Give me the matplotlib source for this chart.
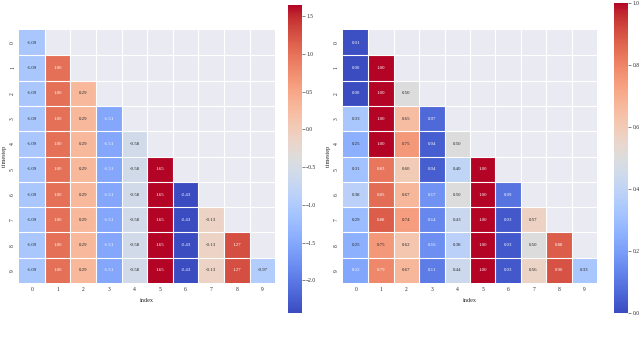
import numpy as np
import matplotlib
matplotlib.use("Agg")
import matplotlib.pyplot as plt
import seaborn as sns

sns.set_theme(style="darkgrid")
plt.rcParams['font.family'] = ['Liberation Serif', 'DejaVu Serif']

labels = [str(i) for i in range(10)]

# lower-triangular rows, left panel (raw values)
left_rows = [
    [-1.09],
    [-1.09, 1.00],
    [-1.09, 1.00, 0.29],
    [-1.09, 1.00, 0.29, -1.51],
    [-1.09, 1.00, 0.29, -1.51, -0.58],
    [-1.09, 1.00, 0.29, -1.51, -0.58, 1.65],
    [-1.09, 1.00, 0.29, -1.51, -0.58, 1.65, -2.43],
    [-1.09, 1.00, 0.29, -1.51, -0.58, 1.65, -2.43, -0.13],
    [-1.09, 1.00, 0.29, -1.51, -0.58, 1.65, -2.43, -0.13, 1.27],
    [-1.09, 1.00, 0.29, -1.51, -0.58, 1.65, -2.43, -0.13, 1.27, -0.97],
]

# lower-triangular rows, right panel (normalised values)
right_rows = [
    [0.01],
    [0.00, 1.00],
    [0.00, 1.00, 0.50],
    [0.33, 1.00, 0.65, 0.07],
    [0.25, 1.00, 0.75, 0.04, 0.50],
    [0.31, 0.83, 0.60, 0.04, 0.40, 1.00],
    [0.38, 0.85, 0.67, 0.17, 0.50, 1.00, 0.09],
    [0.29, 0.88, 0.74, 0.14, 0.43, 1.00, 0.03, 0.57],
    [0.25, 0.75, 0.62, 0.16, 0.38, 1.00, 0.03, 0.50, 0.88],
    [0.22, 0.79, 0.67, 0.11, 0.44, 1.00, 0.03, 0.56, 0.90, 0.33],
]


def to_matrix(rows):
    m = np.full((10, 10), np.nan)
    for i, r in enumerate(rows):
        m[i, :len(r)] = r
    return m


def draw(ax, cax, rows):
    m = to_matrix(rows)
    sns.heatmap(m, ax=ax, cbar_ax=cax, cmap="coolwarm", mask=np.isnan(m),
                annot=True, fmt=".2f", annot_kws={"fontsize": 3.5},
                xticklabels=labels, yticklabels=labels)
    ax.grid(False)
    for k in range(1, 10):
        ax.axhline(k, color="white", lw=0.8, zorder=3)
        ax.axvline(k, color="white", lw=0.8, zorder=3)
    ax.tick_params(axis="both", labelsize=4, length=0, pad=3)
    ax.set_xlabel("index", fontsize=4.5)
    ax.set_ylabel("timestep", fontsize=4.5, labelpad=2)
    cax.tick_params(labelsize=4, length=2, width=0.4, pad=1)


fig = plt.figure(figsize=(6.4, 3.39), dpi=100)
ax1 = fig.add_axes([0.03, 0.165, 0.40, 0.746])
cax1 = fig.add_axes([0.45, 0.077, 0.022, 0.909])
ax2 = fig.add_axes([0.536, 0.165, 0.397, 0.746])
cax2 = fig.add_axes([0.959, 0.077, 0.023, 0.915])

draw(ax1, cax1, left_rows)
draw(ax2, cax2, right_rows)

fig.savefig("out.png", dpi=100)
